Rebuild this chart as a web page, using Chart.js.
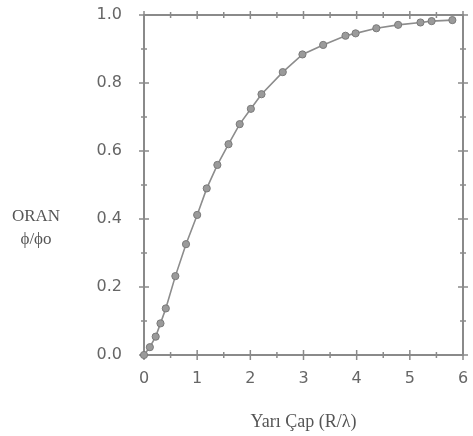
<!DOCTYPE html>
<html><head><meta charset="utf-8">
<script src="https://cdn.jsdelivr.net/npm/chart.js@4/dist/chart.umd.min.js"></script>
<style>html,body{margin:0;padding:0;background:#fff}#wrap{width:473px;height:436px}</style>
</head><body><div id="wrap"><canvas id="c" width="473" height="436"></canvas></div>
<script>
const radiusValues = [0, 0.11, 0.22, 0.31, 0.41, 0.59, 0.79, 1.0, 1.18, 1.38, 1.59, 1.80, 2.01, 2.21, 2.61, 2.98, 3.37, 3.79, 3.98, 4.37, 4.78, 5.2, 5.41, 5.8];
const ratioValues  = [0, 0.023, 0.054, 0.093, 0.137, 0.232, 0.326, 0.412, 0.49, 0.559, 0.62, 0.679, 0.724, 0.767, 0.832, 0.884, 0.912, 0.939, 0.946, 0.961, 0.971, 0.978, 0.982, 0.985];
const xMajorTicks = [0, 1, 2, 3, 4, 5, 6];
const xMinorTicks = [0.5, 1.5, 2.5, 3.5, 4.5, 5.5];
const yMajorTicks = [0, 0.2, 0.4, 0.6, 0.8, 1.0];
const yMinorTicks = [0.1, 0.3, 0.5, 0.7, 0.9];
const xTitle = 'Yarı Çap (R/λ)';
const yTitleLines = ['ORAN', 'ϕ/ϕo'];

const AX = '#8a8a8a';
const framePlugin = {
  id: 'frame',
  beforeDatasetsDraw(chart) {
    const ctx = chart.ctx, a = chart.chartArea;
    const xs = chart.scales.x, ys = chart.scales.y;
    ctx.save();
    ctx.strokeStyle = AX; ctx.lineWidth = 2;
    ctx.strokeRect(a.left, a.top, a.right - a.left, a.bottom - a.top);
    ctx.lineWidth = 1.5;
    const tick = (x1, y1, x2, y2) => { ctx.beginPath(); ctx.moveTo(x1, y1); ctx.lineTo(x2, y2); ctx.stroke(); };
    xMajorTicks.forEach(v => { const p = xs.getPixelForValue(v); tick(p, a.bottom - 5, p, a.bottom + 5); tick(p, a.top - 4, p, a.top + 4); });
    xMinorTicks.forEach(v => { const p = xs.getPixelForValue(v); tick(p, a.bottom - 3, p, a.bottom + 3); tick(p, a.top - 3, p, a.top + 3); });
    yMajorTicks.forEach(v => { const p = ys.getPixelForValue(v); tick(a.left - 5, p, a.left + 5, p); tick(a.right - 5, p, a.right + 5, p); });
    yMinorTicks.forEach(v => { const p = ys.getPixelForValue(v); tick(a.left - 3, p, a.left + 3, p); tick(a.right - 3, p, a.right + 3, p); });
    ctx.fillStyle = '#555';
    ctx.font = '17px "Liberation Serif", "DejaVu Serif", serif';
    ctx.textAlign = 'center'; ctx.textBaseline = 'middle';
    ctx.fillText(yTitleLines[0], 36, 217);
    ctx.fillText(yTitleLines[1], 36, 240);
    ctx.restore();
  }
};

new Chart(document.getElementById('c'), {
  type: 'scatter',
  data: {
    datasets: [{
      data: radiusValues.map((x, i) => ({ x: x, y: ratioValues[i] })),
      showLine: true,
      clip: false,
      borderColor: '#8c8c8c',
      borderWidth: 1.6,
      pointRadius: 3.6,
      pointBackgroundColor: '#9a9a9a',
      pointBorderColor: '#7a7a7a',
      pointBorderWidth: 1,
      tension: 0
    }]
  },
  options: {
    responsive: false,
    animation: false,
    layout: { padding: { top: 15, right: 10, left: 0, bottom: 0 } },
    plugins: { legend: { display: false }, tooltip: { enabled: false } },
    scales: {
      x: {
        type: 'linear', min: 0, max: 6,
        grid: { display: false, drawTicks: false },
        border: { display: false },
        ticks: { stepSize: 1, padding: 14, color: '#666', font: { family: '"DejaVu Sans", sans-serif', size: 16 } },
        title: { display: true, text: xTitle, color: '#555', font: { family: '"Liberation Serif", serif', size: 18 }, padding: { top: 20, bottom: 3 } },
        afterFit(s) { s.height = 81; s.paddingLeft = 0; s.paddingRight = 0; }
      },
      y: {
        type: 'linear', min: 0, max: 1,
        grid: { display: false, drawTicks: false },
        border: { display: false },
        ticks: { stepSize: 0.2, padding: 22, color: '#666', font: { family: '"DejaVu Sans", sans-serif', size: 16 }, callback: v => v.toFixed(1) },
        afterFit(s) { s.width = 144; s.paddingTop = 0; s.paddingBottom = 0; }
      }
    }
  },
  plugins: [framePlugin]
});
</script></body></html>
